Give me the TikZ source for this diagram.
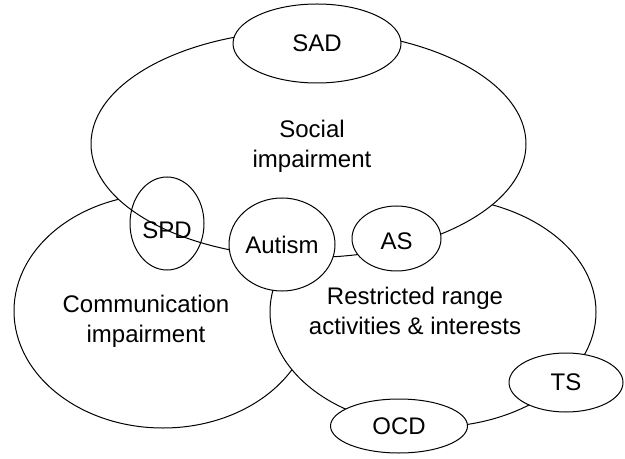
\documentclass[tikz,border=0pt]{standalone}
\usepackage{fontspec}
\setmainfont{Liberation Sans}
\usetikzlibrary{shapes.geometric}

\begin{document}
\begin{tikzpicture}[x=0.5pt, y=-0.5pt, every node/.style={font=\fontsize{12}{15}\selectfont}, region/.style={draw, ellipse, fill=white, line width=0.5pt, inner sep=0pt}, disorder/.style={draw, ellipse, fill=white, line width=0.5pt, inner sep=0pt}, areatext/.style={align=center, inner sep=0pt}]
      \useasboundingbox (0,0) rectangle (625,459);
      % the three domains, lowest first
      \node[region, minimum width=149pt, minimum height=117pt] (comm) at (163,311) {};
      \node[region, minimum width=163pt, minimum height=115pt] (restr) at (433,312) {};
      \node[region, minimum width=217.5pt, minimum height=113.5pt] (social) at (308.5,144) {};
      \node[areatext] (socialtxt) at (312,146) {Social\\impairment};
      \node[areatext] (commtxt) at (146,321) {Communication\\impairment};
      \node[areatext] (restrtxt) at (415,311) {Restricted range\\activities \& interests};
      % disorders
      \node[disorder, minimum width=84pt, minimum height=39.5pt] (sad) at (317,43.5) {SAD};
      \node[disorder, fill=none, text height=15pt, minimum width=37pt, minimum height=46.5pt] (spd) at (167,223.5) {SPD};
      \node[disorder, minimum width=53pt, minimum height=46.5pt] (autism) at (282,244.5) {Autism};
      \node[disorder, text height=11.6pt, minimum width=44.5pt, minimum height=32.5pt] (as) at (396.5,238.5) {AS};
      \node[disorder, minimum width=57pt, minimum height=29.5pt] (ts) at (566,382.5) {TS};
      \node[disorder, minimum width=68.5pt, minimum height=27pt] (ocd) at (399,426) {OCD};
    \end{tikzpicture}
\end{document}
